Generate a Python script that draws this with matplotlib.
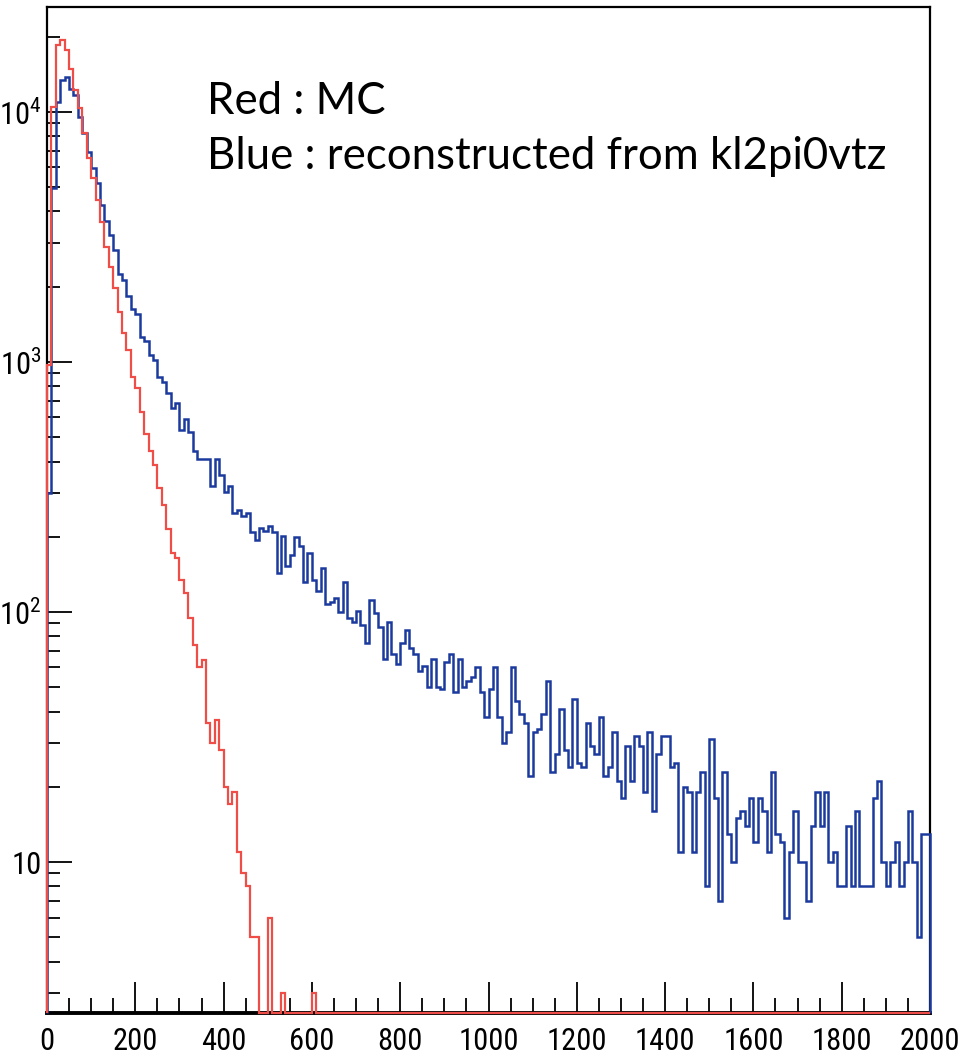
import numpy as np
import matplotlib
matplotlib.use('Agg')
import matplotlib.pyplot as plt
from matplotlib import font_manager
from matplotlib.ticker import LogLocator, MultipleLocator, NullFormatter, FuncFormatter

# ROOT draws its axis numbers in a narrow Helvetica; look for a narrow/condensed sans
def find_narrow():
    fl = font_manager.fontManager.ttflist
    for want in ['Liberation Sans Narrow', 'Arial Narrow', 'Roboto Condensed']:
        for f in fl:
            if f.name == want and f.style == 'normal' and f.weight in (400, 'normal', 'regular'):
                return f.name, f.stretch
    for fam in ['Liberation Sans', 'Noto Sans', 'DejaVu Sans', 'Roboto', 'Open Sans']:
        for f in fl:
            if f.name == fam and f.stretch == 'condensed' and f.style == 'normal' \
                    and f.weight in (400, 'normal', 'regular'):
                return f.name, f.stretch
    return None, None

nar_name, nar_stretch = find_narrow()
if nar_name:
    plt.rcParams['font.family'] = [nar_name, 'DejaVu Sans']
    plt.rcParams['font.stretch'] = nar_stretch
    lab_size = 22
else:
    plt.rcParams['font.family'] = ['Liberation Sans', 'DejaVu Sans']
    lab_size = 19
plt.rcParams['mathtext.default'] = 'regular'

# histogram range and binning (10 units per bin)
x_min, x_max, n_bins = 0, 2000, 200

# reconstructed from kl2pi0vtz (blue), counts per bin
blue_counts = [
    300, 4970, 10970, 13430, 13800, 12400, 11650, 9550, 8240, 6920,
    5970, 5200, 4250, 3660, 3220, 2805, 2250, 2130, 1840, 1630,
    1550, 1260, 1210, 1070, 1020, 870, 830, 750, 656, 685,
    535, 592, 525, 441, 408, 408, 408, 318, 408, 353,
    303, 319, 249, 257, 242, 249, 209, 195, 217, 211,
    221, 209, 143, 201, 153, 169, 200, 183, 132, 173,
    134, 121, 150, 108, 110, 114, 100, 132, 95, 91,
    101, 89, 75, 112, 99, 87, 65, 91, 68, 62,
    75, 85, 72, 68, 58, 61, 50, 65, 50, 49,
    63, 68, 48, 65, 50, 53, 55, 60, 48, 38,
    49, 60, 38, 30, 33, 60, 44, 39, 36, 22,
    33, 34, 39, 53, 23, 27, 41, 28, 24, 45,
    25, 24, 36, 29, 27, 38, 22, 24, 33, 21,
    18, 29, 21, 32, 29, 19, 33, 16, 27, 32,
    32, 24, 25, 11, 20, 19, 11, 19, 23, 8,
    31, 18, 7, 23, 13, 10, 15, 16, 14, 18,
    12, 18, 16, 11, 23, 13, 12, 6, 11, 16,
    10, 10, 7, 14, 19, 14, 19, 10, 11, 8,
    8, 14, 8, 16, 8, 8, 8, 18, 21, 10,
    8, 10, 12, 8, 10, 16, 10, 5, 13, 13,
]

# MC truth (red), counts per bin
red_counts = [
    973, 10470, 18540, 19410, 17700, 14860, 12250, 10380, 8240, 6550,
    5450, 4450, 3630, 2880, 2400, 1980, 1585, 1306, 1117, 871,
    787, 631, 515, 441, 387, 313, 268, 215, 172, 164,
    134, 119, 95, 74, 60, 64, 36, 30, 37, 28,
    20, 17, 19, 11, 9, 8, 5, 5, 0, 0,
    6, 0, 0, 3, 0, 0, 0, 0, 0, 0,
    3, 0, 0, 0, 0, 0, 0, 0, 0, 0,
    0, 0, 0, 0, 0, 0, 0, 0, 0, 0,
    0, 0, 0, 0, 0, 0, 0, 0, 0, 0,
    0, 0, 0, 0, 0, 0, 0, 0, 0, 0,
    0, 0, 0, 0, 0, 0, 0, 0, 0, 0,
    0, 0, 0, 0, 0, 0, 0, 0, 0, 0,
    0, 0, 0, 0, 0, 0, 0, 0, 0, 0,
    0, 0, 0, 0, 0, 0, 0, 0, 0, 0,
    0, 0, 0, 0, 0, 0, 0, 0, 0, 0,
    0, 0, 0, 0, 0, 0, 0, 0, 0, 0,
    0, 0, 0, 0, 0, 0, 0, 0, 0, 0,
    0, 0, 0, 0, 0, 0, 0, 0, 0, 0,
    0, 0, 0, 0, 0, 0, 0, 0, 0, 0,
    0, 0, 0, 0, 0, 0, 0, 0, 0, 0,
]

x_ticks = [0, 200, 400, 600, 800, 1000, 1200, 1400, 1600, 1800, 2000]
legend_lines = ['Red : MC', 'Blue : reconstructed from kl2pi0vtz']

blue_col = '#1c3a9e'
red_col = '#ef4d47'
y_lo, y_hi = 2.49, 26300.0

edges = np.linspace(x_min, x_max, n_bins + 1)

fig = plt.figure(figsize=(9.6, 10.61), dpi=100)
ax = fig.add_axes([47/960, 48/1061, 883/960, 1006/1061])
ax.set_yscale('log')

# empty bins sit on the lower frame like in ROOT
ax.stairs(np.clip(np.array(blue_counts, float), y_lo, None), edges, baseline=y_lo,
          color=blue_col, lw=1.8, clip_on=False, zorder=3)
ax.stairs(np.clip(np.array(red_counts, float), y_lo, None), edges, baseline=y_lo,
          color=red_col, lw=1.6, clip_on=False, zorder=4)

ax.set_xlim(x_min, x_max)
ax.set_ylim(y_lo, y_hi)

for s in ax.spines.values():
    s.set_linewidth(1.6)
    s.set_zorder(2)
ax.spines['bottom'].set_linewidth(2.8)

ax.set_xticks(x_ticks)
ax.xaxis.set_minor_locator(MultipleLocator(50))
ax.yaxis.set_major_locator(LogLocator(base=10, numticks=10))
ax.yaxis.set_minor_locator(LogLocator(base=10, subs=np.arange(2, 10), numticks=20))
ax.yaxis.set_minor_formatter(NullFormatter())

def ylab(v, pos):
    e = int(round(np.log10(v)))
    if e == 1:
        return '10'
    return r'$\mathregular{10^{%d}}$' % e

ax.yaxis.set_major_formatter(FuncFormatter(ylab))

ax.tick_params(axis='x', which='major', direction='in', length=22, width=1.3,
               top=False, pad=10, labelsize=lab_size)
ax.tick_params(axis='x', which='minor', direction='in', length=11, width=1.3, top=False)
ax.tick_params(axis='y', which='major', direction='in', length=18, width=1.3,
               right=False, pad=4, labelsize=lab_size)
ax.tick_params(axis='y', which='minor', direction='in', length=9.5, width=1.3, right=False)

for i, line in enumerate(legend_lines):
    fig.text(207/960, 1 - (114 + 55*i)/1061, line, family=['Lato', 'DejaVu Sans'],
             fontstretch='normal', fontsize=31.5, va='baseline', ha='left')

fig.savefig('out.png', dpi=100)
plt.close(fig)
